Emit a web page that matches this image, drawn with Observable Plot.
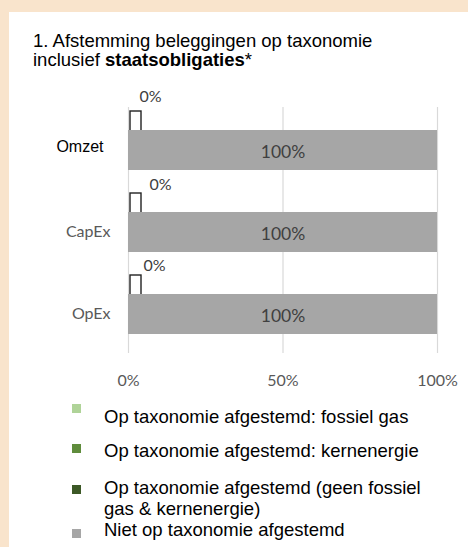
<!DOCTYPE html>
<html><head><meta charset="utf-8">
<script src="https://cdn.jsdelivr.net/npm/d3@7"></script>
<script src="https://cdn.jsdelivr.net/npm/@observablehq/plot@0.6"></script>
<style>
html,body{margin:0;padding:0;}
body{width:468px;height:547px;background:#f9e4cc;position:relative;overflow:hidden;font-family:Arial,"Liberation Sans",sans-serif;}
#panel{position:absolute;left:9px;top:12px;right:0;bottom:0;background:#fff;}
#title{position:absolute;left:33px;top:30.5px;font-size:18.5px;line-height:19px;color:#000;white-space:nowrap;}
#chart{position:absolute;left:0;top:80px;}
.lg-sw{position:absolute;left:72px;width:9px;height:9px;}
.lg-tx{position:absolute;left:104px;font-size:18.5px;line-height:20.5px;color:#000;white-space:nowrap;}
</style>
</head><body>
<div id="panel"></div>
<div id="title">1. Afstemming beleggingen op taxonomie<br>inclusief <b>staatsobligaties</b>*</div>
<div id="chart"></div>
<div id="legend"></div>
<script>
// ---- data ----
const categories = ["Omzet", "CapEx", "OpEx"];
const alignedValues = [0, 0, 0];          // op taxonomie afgestemd (%)
const notAlignedValues = [100, 100, 100]; // niet op taxonomie afgestemd (%)
const xTicks = [0, 50, 100];
const legendLabels = [
  "Op taxonomie afgestemd: fossiel gas",
  "Op taxonomie afgestemd: kernenergie",
  "Op taxonomie afgestemd (geen fossiel<br>gas &amp; kernenergie)",
  "Niet op taxonomie afgestemd"
];
const legendColors = ["#afd398", "#5f8c3c", "#3c5826", "#a6a6a6"];

const rows = categories.map((c, i) => ({cat: c, aligned: alignedValues[i], notAligned: notAlignedValues[i]}));
const pct = d => d + "%";
const labelFont = "Lato, 'Open Sans', sans-serif";

const byCat = c => rows.filter(d => d.cat === c);

const plot = Plot.plot({
  width: 468,
  height: 320,
  marginLeft: 128,
  marginRight: 31,
  marginTop: 27,
  marginBottom: 47,
  style: {background: "transparent", overflow: "visible"},
  x: {domain: [0, 100], ticks: xTicks, tickFormat: pct},
  y: {type: "band", domain: categories, padding: 0, axis: null},
  marks: [
    Plot.gridX(xTicks, {stroke: "#d9d9d9", strokeOpacity: 1, strokeWidth: 1.2}),
    Plot.axisX(xTicks, {tickSize: 0, tickPadding: 21, tickFormat: pct, fontFamily: labelFont, fontSize: 16, fill: "#595959", label: null}),
    // aligned (0%) bars, drawn as outlined stubs
    Plot.barX(rows, {x: "aligned", y: "cat", fill: "white", stroke: "#222", strokeWidth: 1.4, insetTop: 4, insetBottom: 57, insetLeft: 2, insetRight: -13}),
    // not aligned bars
    Plot.barX(rows, {x: "notAligned", y: "cat", fill: "#a6a6a6", insetTop: 23, insetBottom: 19}),
    Plot.text(rows, {x: d => d.notAligned / 2, y: "cat", text: d => pct(d.notAligned), dy: 4, fontFamily: labelFont, fontSize: 17.5, fill: "#404040"}),
    // 0% labels
    Plot.text(byCat("Omzet"), {frameAnchor: "left", y: "cat", text: d => pct(d.aligned), dx: 11, dy: -52, fontFamily: labelFont, fontSize: 16, fill: "#404040"}),
    Plot.text(byCat("CapEx"), {frameAnchor: "left", y: "cat", text: d => pct(d.aligned), dx: 21, dy: -46, fontFamily: labelFont, fontSize: 16, fill: "#404040"}),
    Plot.text(byCat("OpEx"), {frameAnchor: "left", y: "cat", text: d => pct(d.aligned), dx: 15, dy: -47, fontFamily: labelFont, fontSize: 16, fill: "#404040"}),
    // category labels
    Plot.text(byCat("Omzet"), {frameAnchor: "left", y: "cat", text: "cat", textAnchor: "end", dx: -25, dy: -1.5, fontFamily: "Arial, 'Liberation Sans', sans-serif", fontSize: 16, fill: "#000"}),
    Plot.text(rows.filter(d => d.cat !== "Omzet"), {frameAnchor: "left", y: "cat", text: "cat", textAnchor: "end", dx: -18, dy: 1, fontFamily: labelFont, fontSize: 16, fill: "#595959"})
  ]
});
document.getElementById("chart").appendChild(plot);

// ---- legend ----
const swTops = [404, 444, 485, 529];
const txTops = [407.3, 441, 478.3, 520];
const lg = document.getElementById("legend");
legendLabels.forEach((t, i) => {
  const s = document.createElement("div");
  s.className = "lg-sw";
  s.style.top = swTops[i] + "px";
  s.style.background = legendColors[i];
  lg.appendChild(s);
  const x = document.createElement("div");
  x.className = "lg-tx";
  x.style.top = txTops[i] + "px";
  x.innerHTML = t;
  lg.appendChild(x);
});
</script>
</body></html>
